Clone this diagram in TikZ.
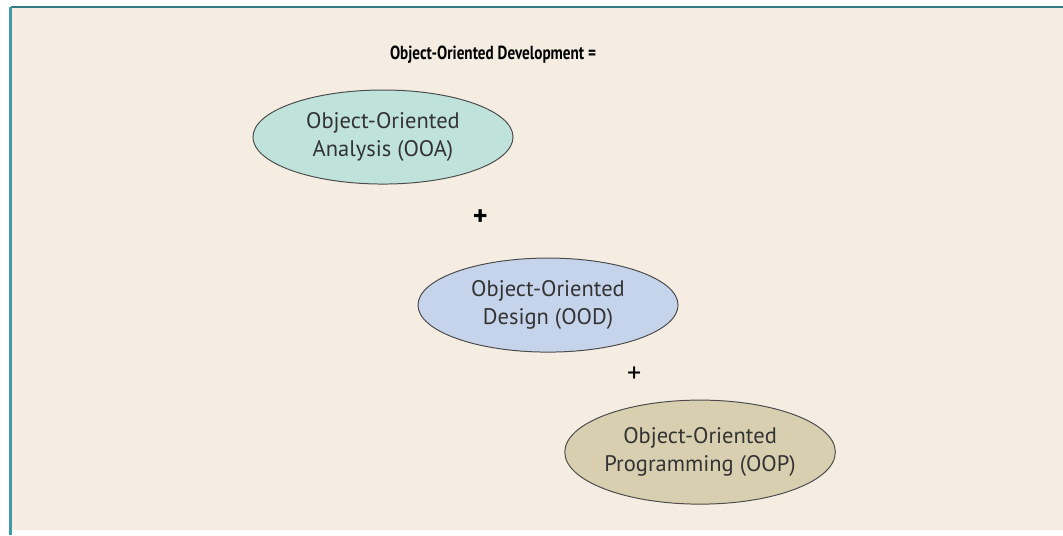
\documentclass[tikz,border=0pt]{standalone}
\usepackage{fontspec}
\setmainfont{PT Sans}
\newfontfamily\titlefont[FakeStretch=0.8]{PT Sans}
\usetikzlibrary{shapes.geometric, positioning}

\definecolor{paper}{HTML}{F5EDE2}
\definecolor{frameline}{HTML}{3E9AA6}
\definecolor{ooacol}{HTML}{BFE3DA}
\definecolor{oodcol}{HTML}{C6D4EB}
\definecolor{oopcol}{HTML}{D8CFB0}

\begin{document}
\begin{tikzpicture}[
	nodes = {
		align = center
	},
	phase/.style={
		ellipse,
		draw=black!70,
		line width=0.7pt,
		minimum width=6.5cm,
		minimum height=2.35cm,
		inner sep=0pt,
		text=black!80,
		font=\fontsize{16}{19.5}\selectfont
	},
	plus/.style={
		inner sep=0pt,
		font=\fontsize{20}{20}\selectfont
	}
]
	% page and frame
	\begin{scope}[x=0.025cm, y=-0.025cm]
		\useasboundingbox (0,0) rectangle (1063,535);
		\fill[white] (0,0) rectangle (1063,535);
		\fill[paper] (11,7) rectangle (1063,530);
		\draw[frameline!80!black, line width=1.2pt] (10.5,7) -- (1063,7);
		\draw[frameline, line width=1.6pt] (10.5,6.5) -- (10.5,535);
		\node[inner sep=0pt, font=\titlefont\bfseries\fontsize{13.5}{15}\selectfont] (title) at (495,55) {
			Object-Oriented Development =
		};
	\end{scope}

	\node[phase, fill=ooacol] (ooa) [below left=2.05cm and 2.8cm of title.center, anchor=center] {
		Object-Oriented\\
		Analysis (OOA)
	};

	\node[plus] (plusa) [below right=2.025cm and 2.525cm of ooa.center, anchor=center] {
		\textbf{+}
	};

	\node[phase, fill=oodcol] (ood) [below right=2.175cm and 1.6cm of plusa.center, anchor=center] {
		Object-Oriented\\
		Design (OOD)
	};

	\node[plus] (plusb) [below right=1.75cm and 2.25cm of ood.center, anchor=center] {
		+
	};

	\node[phase, fill=oopcol, minimum height=2.6cm] (oop) [below right=1.925cm and 1.55cm of plusb.center, anchor=center] {
		Object-Oriented\\
		Programming (OOP)
	};
\end{tikzpicture}
\end{document}
